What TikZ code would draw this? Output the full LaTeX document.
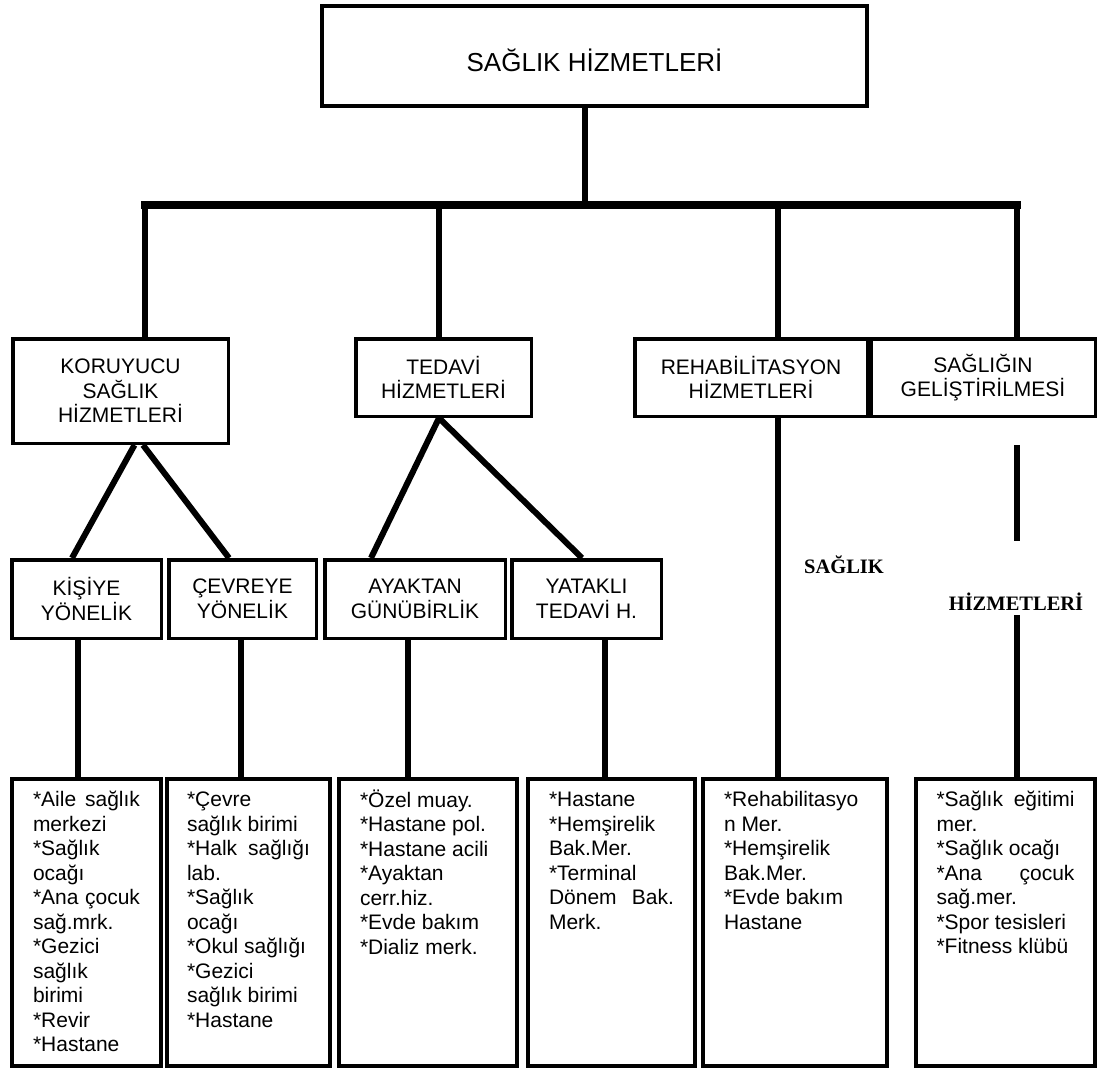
\documentclass[tikz,border=0pt]{standalone}
\usepackage{fontspec}
\setmainfont{Liberation Sans}
\newfontfamily\tnr{Liberation Serif}
\begin{document}
\begin{tikzpicture}[x=1pt,y=-1pt,
  lvl/.style={draw, line width=3.5pt, inner sep=0pt, align=center, font=\fontsize{21}{24.5}\selectfont},
  leaf/.style={draw, line width=4pt, inner sep=0pt, minimum height=287, font=\fontsize{21}{24.5}\selectfont},
  conn/.style={line width=5.5pt},
  diag/.style={line width=6pt},
  barline/.style={line width=7.5pt, line cap=rect},
  note/.style={font=\tnr\bfseries\fontsize{20.5}{24}\selectfont, inner sep=0pt}]
\fill[white] (0,0) rectangle (1099,1072);
\useasboundingbox (0,0) rectangle (1099,1072);

% top
\node[lvl, line width=4pt, minimum width=545, minimum height=100, font=\fontsize{26}{30}\selectfont] (top) at (594.5,56) {\raisebox{-5pt}[20.6pt][0pt]{SAĞLIK HİZMETLERİ}};

% level 2
\node[lvl, minimum width=215.5, minimum height=104.5] (kor) at (120.5,391) {KORUYUCU\\SAĞLIK\\HİZMETLERİ};
\node[lvl, minimum width=175.5, minimum height=77.5] (ted) at (443.5,377.5) {TEDAVİ\\HİZMETLERİ};
\node[lvl, minimum width=232.5, minimum height=77.5] (reh) at (751,377.5) {REHABİLİTASYON\\HİZMETLERİ};
\node[lvl, minimum width=224.5, minimum height=77.5] (sag) at (983,377.5) {SAĞLIĞIN\\GELİŞTİRİLMESİ};

% level 3
\node[lvl, minimum width=149.5, minimum height=78.5] (kis) at (86.5,599) {KİŞİYE\\YÖNELİK};
\node[lvl, minimum width=147.5, minimum height=78.5] (cev) at (242.5,599) {ÇEVREYE\\YÖNELİK};
\node[lvl, minimum width=180.5, minimum height=78.5] (aya) at (415,599) {AYAKTAN\\GÜNÜBİRLİK};
\node[lvl, minimum width=149.5, minimum height=78.5] (yat) at (586.5,599) {YATAKLI\\TEDAVİ H.};

% bottom boxes
\node[leaf, minimum width=149] (b1) at (86.5,922.5) {\parbox[c][266pt][t]{107pt}{\strut\makebox[\linewidth][s]{*Aile sağlık}\\merkezi\\{}*Sağlık\\ocağı\\\makebox[\linewidth][s]{*Ana çocuk}\\sağ.mrk.\\{}*Gezici\\sağlık\\birimi\\{}*Revir\\{}*Hastane}};
\node[leaf, minimum width=163] (b2) at (248.5,922.5) {\parbox[c][266pt][t]{123pt}{\strut *Çevre\\sağlık birimi\\\makebox[\linewidth][s]{*Halk sağlığı}\\lab.\\{}*Sağlık\\ocağı\\{}*Okul sağlığı\\{}*Gezici\\sağlık birimi\\{}*Hastane}};
\node[leaf, minimum width=178] (b3) at (428,922.5) {\parbox[c][266pt][t]{136pt}{\strut *Özel muay.\\{}*Hastane pol.\\{}*Hastane acili\\{}*Ayaktan\\cerr.hiz.\\{}*Evde bakım\\{}*Dializ merk.}};
\node[leaf, minimum width=167] (b4) at (611.5,922.5) {\parbox[c][266pt][t]{125pt}{\strut *Hastane\\{}*Hemşirelik\\Bak.Mer.\\{}*Terminal\\\makebox[\linewidth][s]{Dönem Bak.}\\Merk.}};
\node[leaf, minimum width=184] (b5) at (795,922.5) {\parbox[c][266pt][t]{142pt}{\strut *Rehabilitasyo\\n Mer.\\{}*Hemşirelik\\Bak.Mer.\\{}*Evde bakım\\Hastane}};
\node[leaf, minimum width=179] (b6) at (1005.5,922.5) {\parbox[c][266pt][t]{138pt}{\strut\makebox[\linewidth][s]{*Sağlık eğitimi}\\mer.\\{}*Sağlık ocağı\\\makebox[\linewidth][s]{*Ana çocuk}\\sağ.mer.\\{}*Spor tesisleri\\{}*Fitness klübü}};

% floating labels
\node[note] (lblA) at (844,565) {SAĞLIK};
\node[note] (lblB) at (1016,602) {HİZMETLERİ};

% junction coordinates
\coordinate (jt) at (585,205);
\coordinate (j1) at (145,205);
\coordinate (j2) at (439,205);
\coordinate (j3) at (778,205);
\coordinate (j4) at (1017,205);
\coordinate (v1) at (78,0);
\coordinate (v2) at (241,0);
\coordinate (v3) at (408,0);
\coordinate (v4) at (605,0);
\coordinate (g1) at (1017,445);
\coordinate (g2) at (1017,541);
\coordinate (g3) at (1017,615);

% connectors
\draw[conn] (jt |- top.south) -- (jt);
\draw[barline] (j1) -- (j4);
\draw[conn] (j1) -- (j1 |- kor.north);
\draw[conn] (j2) -- (j2 |- ted.north);
\draw[conn] (j3) -- (j3 |- reh.north);
\draw[conn] (j4) -- (j4 |- sag.north);

\draw[diag] ([xshift=14pt]kor.south) -- ([xshift=-14.5pt]kis.north);
\draw[diag] ([xshift=22.5pt]kor.south) -- ([xshift=-13.5pt]cev.north);
\draw[diag] ([xshift=-4.5pt]ted.south) -- ([xshift=-44pt]aya.north);
\draw[diag] ([xshift=-4.5pt]ted.south) -- ([xshift=-4.5pt]yat.north);

\draw[conn] (v1 |- kis.south) -- (v1 |- b1.north);
\draw[conn] (v2 |- cev.south) -- (v2 |- b2.north);
\draw[conn] (v3 |- aya.south) -- (v3 |- b3.north);
\draw[conn] (v4 |- yat.south) -- (v4 |- b4.north);
\draw[conn] (j3 |- reh.south) -- (j3 |- b5.north);
\draw[conn] (g1) -- (g2);
\draw[conn] (g3) -- (g3 |- b6.north);
\end{tikzpicture}
\end{document}
